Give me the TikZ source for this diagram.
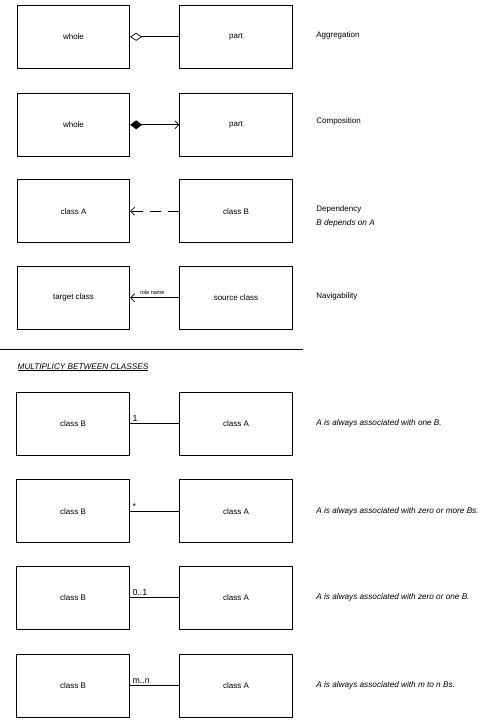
\documentclass[tikz,border=0pt]{standalone}
\usepackage{fontspec}
\setmainfont{Liberation Sans}
\usetikzlibrary{arrows.meta, positioning}

\begin{document}
\begin{tikzpicture}[x=1pt, y=-1pt, line width=0.8pt,
    umlbox/.style={draw, rectangle, minimum width=112.5pt, minimum height=63pt, inner sep=0pt, font=\fontsize{8}{9.6}\selectfont},
    note/.style={anchor=west, inner sep=0pt, font=\fontsize{8}{9.6}\selectfont},
    italnote/.style={note, font=\fontsize{8.2}{9.8}\selectfont\itshape},
    mult/.style={anchor=south west, inner sep=1.5pt, xshift=1pt, font=\fontsize{8.8}{10}\selectfont},
    openhead/.style={-{Straight Barb[length=4pt, width=8pt, line width=0.7pt]}}]
  \useasboundingbox (0,0) rectangle (486,725);

  % Aggregation
  \node[umlbox] (whole1) at (73.5,36.8) {whole};
  \node[umlbox] (part1) at (236,36.8) {part};
  \draw[{Diamond[open, length=12pt, width=8pt, line width=0.7pt]}-] (whole1.east) -- (part1.west);
  \node[note] (agg) at (316,35) {Aggregation};

  % Composition
  \node[umlbox] (whole2) at (73.5,124.8) {whole};
  \node[umlbox] (part2) at (236,124.8) {part};
  \draw[{Diamond[length=12pt, width=9pt]}-{Straight Barb[length=4pt, width=8pt, line width=0.7pt]}] (whole2.east) -- (part2.west);
  \node[note] (comp) at (316,121) {Composition};

  % Dependency
  \node[umlbox] (clsA) at (73.5,211.2) {class A};
  \node[umlbox] (clsB) at (236,211.2) {class B};
  \draw[openhead, dash pattern=on 11pt off 7pt] (clsB.west) -- (clsA.east);
  \node[note] (dep) at (316,209.3) {Dependency};
  \node[italnote] (depnote) at (316,223.3) {B depends on A};

  % Navigability
  \node[umlbox] (target) at (73.5,297.8) {target class};
  \node[umlbox] (source) at (236,297.8) {source class};
  \draw[openhead] (source.west) -- node[above, pos=0.55, inner sep=3pt, font=\fontsize{5.5}{6}\selectfont] {role name} (target.east);
  \node[note] (nav) at (316,296) {Navigability};

  % Separator and heading
  \coordinate (sepL) at (0,349.3);
  \coordinate (sepR) at (302.7,349.3);
  \draw (sepL) -- (sepR);
  \node[italnote] (mhead) at (17.3,367.3) {\underline{MULTIPLICY BETWEEN CLASSES}};

  % Multiplicity rows
  \foreach \i/\y/\m/\txt in {1/423.8/1/one B.,
                             2/511.2/*/zero or more Bs.,
                             3/597.5/0..1/zero or one B.,
                             4/685.7/m..n/m to n Bs.}{
    \node[umlbox] (mb\i) at (73,\y) {class B};
    \node[umlbox] (ma\i) at (236,\y) {class A};
    \draw (mb\i.east) -- (ma\i.west);
    \node[mult] (ml\i) at (mb\i.east) {\m};
    \node[italnote] (mt\i) at (316,\y) {A is always associated with \txt};
  }
\end{tikzpicture}
\end{document}
